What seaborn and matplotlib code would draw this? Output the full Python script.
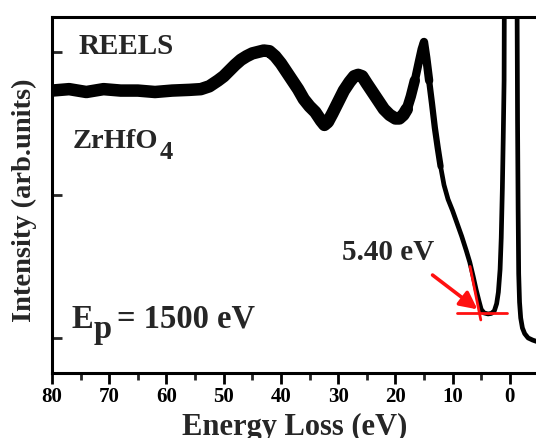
import matplotlib
matplotlib.use("Agg")
import matplotlib.pyplot as plt
import numpy as np
import pandas as pd
import seaborn as sns

# ---- data ----
energy = [80, 77, 74, 71, 68, 65, 62, 59, 56, 54, 52.5, 51, 50, 49, 48, 47, 46,
          45, 44, 43, 42, 41, 40, 39, 38, 37, 36, 35, 34, 33, 32.4, 31.8, 31,
          30, 29, 28, 27.2, 26.5, 25.8, 25, 24, 23, 22, 21, 20, 19.3, 18.6, 18,
          17.3, 16.6, 15.9, 15.4, 15.0, 14.6, 14.1, 13.6, 13.1, 12.6, 12.1,
          11.5, 10.8, 10.0, 9.2, 8.4, 7.6, 7.0, 6.4, 5.9, 5.4, 5.0, 4.5, 3.8,
          3.2, 2.7, 2.3, 2.0, 1.7, 1.5, 1.3, 1.15, 1.0, 0.0, -1.35, -1.45,
          -1.55, -1.7, -1.9, -2.2, -2.6, -3.2, -4.0, -4.8]
intensity = [1.73, 1.74, 1.72, 1.74, 1.73, 1.73, 1.72, 1.73, 1.735, 1.74, 1.76,
             1.80, 1.83, 1.87, 1.91, 1.945, 1.97, 1.99, 2.00, 2.01, 2.005,
             1.97, 1.92, 1.86, 1.80, 1.74, 1.67, 1.62, 1.58, 1.52, 1.49, 1.51,
             1.57, 1.65, 1.73, 1.79, 1.83, 1.84, 1.83, 1.78, 1.72, 1.66, 1.60,
             1.56, 1.535, 1.535, 1.56, 1.60, 1.69, 1.80, 1.93, 2.02, 2.07, 1.96,
             1.80, 1.64, 1.47, 1.33, 1.20, 1.07, 0.97, 0.89, 0.80, 0.71, 0.61,
             0.53, 0.43, 0.34, 0.26, 0.20, 0.175, 0.168, 0.172, 0.19, 0.24,
             0.32, 0.48, 0.70, 1.05, 1.40, 1.80, 15.0, 1.52, 0.90, 0.45, 0.25,
             0.14, 0.07, 0.03, 0.0, -0.015, -0.026]

edge_E = [6.95, 5.07]
edge_I = [0.50, 0.126]
floor_E = [9.15, 0.52]
floor_I = [0.177, 0.177]
arrow_from = (13.5, 0.44)
arrow_to = (5.65, 0.20)

x_ticks = [80, 70, 60, 50, 40, 30, 20, 10, 0]
x_minor = [75, 65, 55, 45, 35, 25, 15, 5]
y_ticks = [0, 1, 2]

# ---- style ----
sns.set_theme(style="ticks")
plt.rcParams["font.family"] = ["Liberation Serif", "DejaVu Serif"]
plt.rcParams["font.weight"] = "bold"

W, H = 536, 438
fig = plt.figure(figsize=(W / 100, H / 100), dpi=100)
fig.patch.set_facecolor("white")
ax_l, ax_r, ax_t, ax_b = 52, 537, 16.5, 373
ax = fig.add_axes([ax_l / W, (H - ax_b) / H, (ax_r - ax_l) / W, (ax_b - ax_t) / H])
ax.set_facecolor("white")

df = pd.DataFrame({"E": energy, "I": intensity})
segments = [
    (df[df.E >= 18.0], 9.0),
    (df[(df.E <= 18.0) & (df.E >= 16.6)], 7.5),
    (df[(df.E <= 16.6) & (df.E >= 14.1)], 6.0),
    (df[(df.E <= 14.1) & (df.E >= 12.1)], 4.5),
    (df[df.E <= 12.1], 3.4),
]
for seg, lw in segments:
    sns.lineplot(data=seg, x="E", y="I", ax=ax, color="black", linewidth=lw,
                 sort=False, estimator=None, solid_capstyle="round",
                 solid_joinstyle="round")

red = "#ff1010"
sns.lineplot(x=edge_E, y=edge_I, ax=ax, color=red, linewidth=2.0, sort=False,
             estimator=None)
sns.lineplot(x=floor_E, y=floor_I, ax=ax, color=red, linewidth=2.0, sort=False,
             estimator=None)
ax.annotate("", xy=arrow_to, xytext=arrow_from,
            arrowprops=dict(arrowstyle="-|>", color=red, lw=2.6,
                            mutation_scale=26, shrinkA=0, shrinkB=0))

ax.set_xlim(80, -4.75)
ax.set_ylim(-0.245, 2.248)
ax.set_xticks(x_ticks)
ax.set_xticks(x_minor, minor=True)
ax.set_xticklabels([str(t) for t in x_ticks], fontsize=15, fontweight="bold")
ax.set_yticks(y_ticks)
ax.set_yticklabels([])
ax.tick_params(axis="x", which="major", direction="out", length=8, width=2,
               pad=2, colors="black", bottom=True, top=False)
ax.tick_params(axis="x", which="minor", direction="out", length=5, width=2,
               bottom=True, top=False)
ax.tick_params(axis="y", which="major", direction="in", length=7, width=2,
               left=True, right=False)
for s in ["left", "bottom", "top"]:
    ax.spines[s].set_linewidth(2.2)
    ax.spines[s].set_color("black")
ax.spines["right"].set_visible(False)

ax.set_xlabel("Energy Loss (eV)", fontsize=22, fontweight="bold")
ax.xaxis.set_label_coords(0.5, (ax_b - 413) / (ax_b - ax_t))
ax.set_ylabel("Intensity (arb.units)", fontsize=20.5, fontweight="bold")
ax.yaxis.set_label_coords((37 - ax_l) / (ax_r - ax_l), (ax_b - 200) / (ax_b - ax_t))

def ac(px, py):
    return ((px - ax_l) / (ax_r - ax_l), (ax_b - py) / (ax_b - ax_t))

ax.text(*ac(79, 54), "REELS", transform=ax.transAxes, fontsize=21,
        fontweight="bold", va="baseline", ha="left")
t_z = ax.text(*ac(73, 148.5), "ZrHfO", transform=ax.transAxes, fontsize=20.5,
              fontweight="bold", va="baseline", ha="left")
ax.annotate("4", xy=(1, 0), xycoords=t_z, xytext=(0.5, -7),
            textcoords="offset points", fontsize=19, fontweight="bold",
            va="bottom", ha="left")
t_e = ax.text(*ac(72, 328), "E", transform=ax.transAxes, fontsize=23.5,
              fontweight="bold", va="baseline", ha="left")
t_p = ax.annotate("p", xy=(1, 0), xycoords=t_e, xytext=(0, -7.5),
                  textcoords="offset points", fontsize=23.5, fontweight="bold",
                  va="bottom", ha="left")
ax.annotate("= 1500 eV", xy=(1, 0), xycoords=t_p, xytext=(4, 7.5),
            textcoords="offset points", fontsize=23.5, fontweight="bold",
            va="bottom", ha="left")
ax.text(*ac(342, 260), "5.40 eV", transform=ax.transAxes, fontsize=21,
        fontweight="bold", va="baseline", ha="left")

fig.savefig("out.png", dpi=100, facecolor="white")
